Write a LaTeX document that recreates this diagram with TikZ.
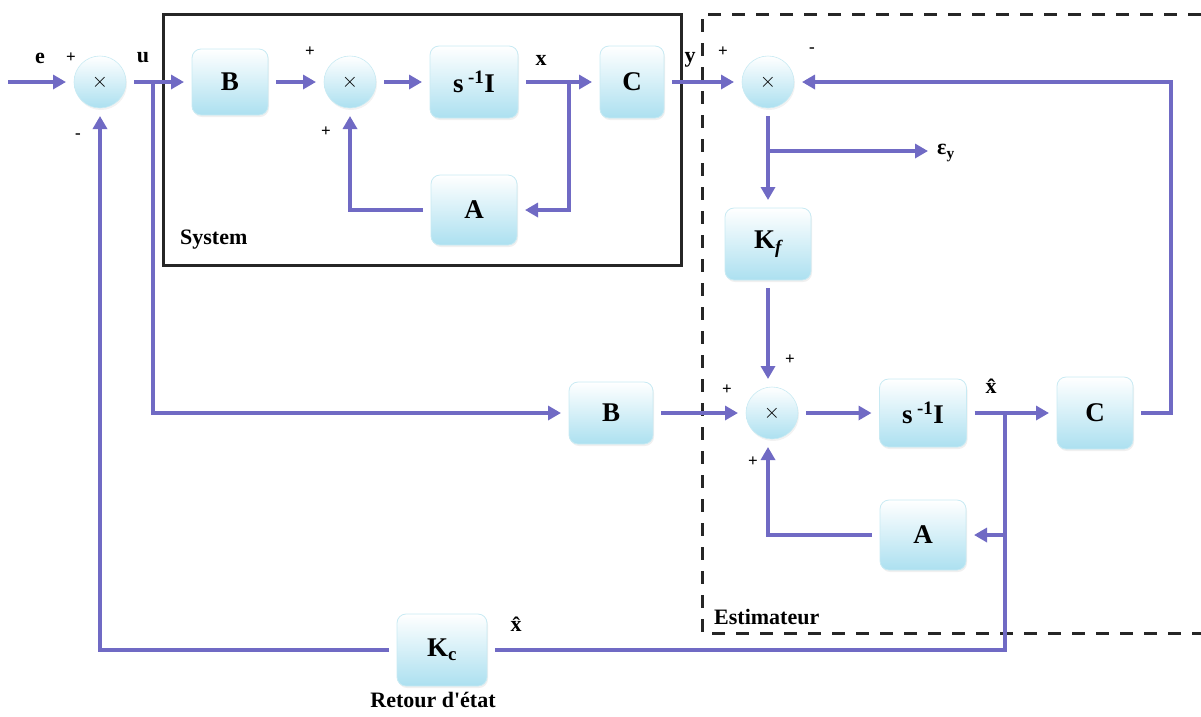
\documentclass[tikz,border=0pt]{standalone}
\usepackage{fontspec}
\setmainfont{Liberation Serif}
\newfontfamily\rawserif{Liberation Serif}
\usetikzlibrary{arrows.meta,shadows}
\definecolor{sigcol}{RGB}{112,106,196}
\definecolor{boxbot}{RGB}{172,224,240}
\definecolor{boxedge}{RGB}{200,234,243}
\begin{document}
\begin{tikzpicture}[x=1pt,y=-1pt,
  blk/.style={draw=boxedge, line width=0.8pt, rounded corners=9pt, top color=white, bottom color=boxbot,
    minimum width=86pt, minimum height=70pt, outer sep=8pt, inner sep=0pt,
    drop shadow={opacity=0.12, shadow xshift=1pt, shadow yshift=-2pt},
    font=\bfseries\fontsize{27}{30}\selectfont},
  sumc/.style={circle, draw=boxedge, line width=0.6pt, top color=white, bottom color=boxbot,
    minimum size=52pt, inner sep=0pt, outer sep=8pt,
    drop shadow={opacity=0.10, shadow xshift=1pt, shadow yshift=-2pt},
    font=\fontsize{20}{22}\selectfont},
  sig/.style={draw=sigcol, line width=3.6pt},
  arr/.style={sig, -{Triangle[length=13pt,width=14pt]}},
  lbl/.style={font=\bfseries\fontsize{22}{24}\selectfont, inner sep=0pt},
  sgn/.style={font=\bfseries\fontsize{17}{18}\selectfont, inner sep=0pt},
]
\useasboundingbox (0,0) rectangle (1201,716);

% frames
\draw[line width=3pt, black!85] (163,14) rectangle (681,265);
\draw[line width=3pt, black!85, dash pattern=on 13pt off 11pt] (1201,14) -- (702,14) -- (702,633) -- (1201,633);

% sums
\node[sumc] (s1) at (100,82) {$\times$};
\node[sumc] (s2) at (350,82) {$\times$};
\node[sumc] (s3) at (768,82) {$\times$};
\node[sumc] (s4) at (772,413) {$\times$};

% blocks
\node[blk, minimum width=76pt, minimum height=66pt] (b1) at (230,82) {B};
\node[blk, minimum width=88pt, minimum height=72pt] (i1) at (474,82) {s\,\textsuperscript{-1}I};
\node[blk, minimum width=64pt, minimum height=72pt] (c1) at (632,82) {C};
\node[blk] (a1) at (474,210) {A};
\node[blk, minimum height=72pt] (kf) at (768,244) {K\textsubscript{\itshape f}};
\node[blk, minimum width=84pt, minimum height=62pt] (b2) at (611,413) {B};
\node[blk, minimum width=87pt, minimum height=68pt] (i2) at (923,413) {s\,\textsuperscript{-1}I};
\node[blk, minimum width=76pt, minimum height=72pt] (c2) at (1095,413) {C};
\node[blk] (a2) at (923,535) {A};
\node[blk, minimum width=90pt, minimum height=72pt] (kc) at (442,650) {K\textsubscript{c}};

% coordinates
\coordinate (in) at (8,82);
\coordinate (ub) at (153,82);
\coordinate (xb) at (569,82);
\coordinate (eb) at (768,151);
\coordinate (eps) at (928,151);
\coordinate (xh) at (1005,413);
\coordinate (xhd) at (1005,650);
\coordinate (fb) at (1171,413);

% connectors
\draw[arr] (in) -- (s1.west);
\draw[arr] (s1.east) -- (b1.west);
\draw[arr] (ub) |- (b2.west);
\draw[arr] (b1.east) -- (s2.west);
\draw[arr] (s2.east) -- (i1.west);
\draw[arr] (i1.east) -- (c1.west);
\draw[arr] (xb) |- (a1.east);
\draw[arr] (a1.west) -| (s2.south);
\draw[arr] (c1.east) -- (s3.west);
\draw[arr] (c2.east) -- (fb) |- (s3.east);
\draw[arr] (s3.south) -- (kf.north);
\draw[arr] (eb) -- (eps);
\draw[arr] (kf.south) -- (s4.north -| kf.south);
\draw[arr] (b2.east) -- (s4.west);
\draw[arr] (s4.east) -- (i2.west);
\draw[arr] (i2.east) -- (c2.west);
\draw[arr] (xh |- a2.east) -- (a2.east);
\draw[sig] (xh) -- (xhd) -- (kc.east);
\draw[arr] (a2.west) -| (s4.south -| kf.south);
\draw[arr] (kc.west) -| (s1.south);

% labels
\node[lbl] (le) at (40,58) {e};
\node[lbl] (lu) at (143,58) {u};
\node[lbl] (lx) at (541,60) {x};
\node[lbl] (ly) at (690,60) {y};
\node[lbl] (lxh1) at (991,386) {\^x};
\node[lbl] (lxh2) at (516,624) {\^x};
\node[lbl, anchor=west] (leps) at (937,153) {ε\textsubscript{y}};
\node[lbl, anchor=west] (lsys) at (180,240) {System};
\node[lbl, anchor=west] (lest) at (714,617) {Estimateur};
\node[lbl] (lret) at (433,700) {Retour d{\rawserif'}état};

\node[sgn] at (71,58) {+};
\node[sgn] at (78,136) {-};
\node[sgn] at (310,52) {+};
\node[sgn] at (326,132) {+};
\node[sgn] at (723,52) {+};
\node[sgn] at (812,50) {-};
\node[sgn] at (790,360) {+};
\node[sgn] at (727,390) {+};
\node[sgn] at (753,462) {+};
\end{tikzpicture}
\end{document}
